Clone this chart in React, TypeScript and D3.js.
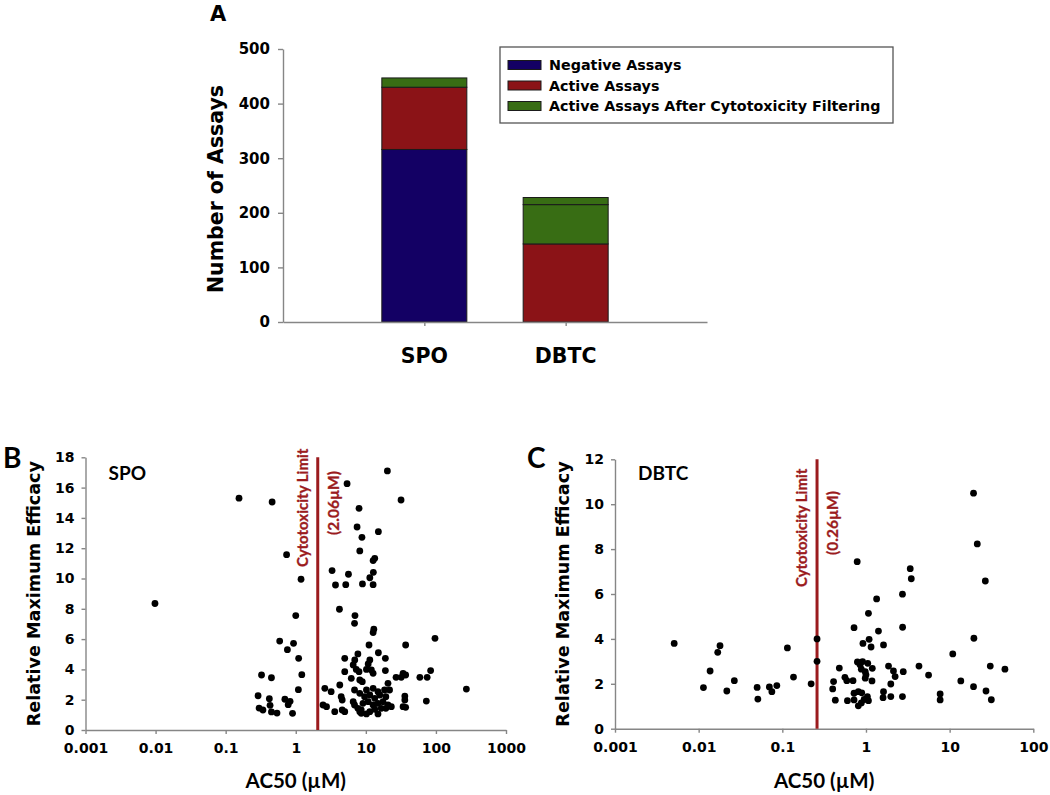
import React, { useEffect, useRef } from 'react'
import * as d3 from 'd3'

// panel A
const compounds = ['SPO', 'DBTC']
const negativeAssays = [316, 0]
const activeAssays = [114, 143]
const afterFiltering = [17, 72]
const afterFilteringTop = [0, 13]
const legendLabels = ['Negative Assays', 'Active Assays', 'Active Assays After Cytotoxicity Filtering']
const barTicks = [0, 100, 200, 300, 400, 500]

// panel B (SPO)
const spoAC50 = [
  0.0098, 0.155, 0.46, 0.74, 1.19, 1.0, 0.59, 0.93, 0.76, 1.1, 0.325, 0.45, 1.22, 1.09, 0.29, 0.42,
  0.7, 0.83, 0.43, 0.78, 0.3, 0.34, 0.45, 0.54, 0.9,
  20.3, 5.4, 31.8, 8.0, 7.5, 15.1, 8.8, 8.2, 13.4, 12.7, 3.3, 5.65, 12.8, 11.4, 3.69, 5.17, 8.95, 12.7,
  4.2, 7.0, 6.9, 13.0, 12.7, 97, 37, 11.1, 15.1, 19, 7.7, 6.95, 6.6, 7.3, 8.0, 5.0, 11.4, 10.8, 10.2,
  12.0, 12.7, 19, 5.0, 6.2, 8.2, 8.9, 27, 32, 34, 20.7, 4.25, 2.6, 3.2, 6.9, 8.2, 36, 36, 34, 4.45,
  4.6, 2.45, 2.75, 3.6, 4.6, 6.6, 6.9, 7.7, 8.6, 84, 75, 59, 37, 272, 73, 37,
  10.2, 12.7, 14.9, 18.5, 21.8, 9.6, 11.4, 13.4, 15.8, 19.3, 9.1, 10.8, 12.7, 14.9, 17.6, 20.7, 23.1,
  8.6, 11.4, 13.4, 16.6, 19.3, 10.2, 14.9, 5.0, 8.2,
]
const spoEfficacy = [
  8.35, 15.3, 15.05, 11.57, 9.95, 7.55, 5.87, 5.72, 5.3, 4.73, 3.63, 3.45, 3.65, 2.66, 2.26, 2.07,
  2.03, 1.89, 1.63, 1.67, 1.45, 1.32, 1.19, 1.12, 1.1,
  17.1, 16.26, 15.18, 14.63, 13.4, 13.09, 12.72, 11.82, 11.33, 11.18, 10.52, 10.28, 10.41, 10.05, 9.57, 9.59, 9.64, 9.59,
  7.97, 7.55, 7.04, 6.65, 6.43, 6.05, 5.61, 5.61, 5.1, 4.73, 5.02, 4.62, 4.29, 4.0, 3.85, 4.73, 4.62, 4.36, 4.0,
  3.96, 3.74, 3.92, 3.85, 3.41, 3.3, 3.19, 3.48, 3.48, 3.74, 3.08, 2.97, 2.75, 2.53, 2.64, 2.42, 2.24, 1.98, 1.54, 2.2,
  1.98, 1.65, 1.54, 1.21, 1.32, 1.87, 1.65, 1.43, 1.1, 3.92, 3.48, 3.48, 3.63, 2.7, 1.91, 1.5,
  2.64, 2.75, 2.53, 2.64, 2.64, 2.2, 2.31, 2.09, 2.31, 2.2, 1.76, 1.87, 1.65, 1.76, 1.87, 1.65, 1.54,
  1.32, 1.21, 1.37, 1.43, 1.43, 1.06, 1.06, 1.21, 1.21,
]
const spoLimit = 2.06
const spoYTicks = [0, 2, 4, 6, 8, 10, 12, 14, 16, 18]

// panel C (DBTC)
const dbtcAC50 = [
  0.0051, 0.0114, 0.0137, 0.0169, 0.018, 0.0217, 0.0267, 0.05, 0.051, 0.07, 0.075, 0.086, 0.115, 0.136,
  0.221, 0.26, 0.26, 0.785, 0.48, 0.41, 0.4, 0.43, 0.56, 0.59, 0.7, 0.72, 0.92, 1.09, 1.15, 1.07,
  0.79, 0.91, 1.05, 0.88, 0.98, 1.19, 0.98, 1.18, 0.72, 0.81, 0.89, 1.04, 0.6, 0.72, 0.81, 1.07,
  19.3, 21.4, 26.7, 3.38, 3.48, 2.73, 1.34, 2.74, 1.41, 1.62, 19.5, 10.9, 1.86, 2.13, 2.23, 2.79,
  4.3, 5.6, 1.98, 1.62, 1.6, 1.98, 2.73, 7.7, 7.7, 13.6, 19.3, 27.2, 31.5, 30.6, 45.8,
  0.85, 1.0, 0.95, 0.88,
]
const dbtcEfficacy = [
  3.8, 1.83, 2.57, 3.4, 3.7, 1.68, 2.14, 1.84, 1.32, 1.86, 1.65, 1.92, 3.6, 2.3,
  2.0, 4.0, 3.0, 7.44, 2.7, 2.1, 1.77, 1.27, 2.29, 2.14, 2.14, 4.5, 3.8, 3.98, 3.64, 5.14,
  2.97, 2.99, 2.91, 2.65, 2.54, 2.69, 2.25, 2.13, 1.58, 1.65, 1.6, 1.43, 1.25, 1.28, 1.02, 1.25,
  10.49, 8.23, 6.58, 7.13, 6.68, 5.99, 5.78, 4.52, 4.35, 3.73, 4.03, 3.33, 2.79, 2.57, 2.32, 2.54,
  2.79, 2.39, 1.99, 1.65, 1.38, 1.43, 1.43, 1.55, 1.28, 2.13, 1.87, 1.68, 1.29, 2.79, 2.65,
  2.85, 2.4, 1.3, 1.15,
]
const dbtcLimit = 0.26
const dbtcYTicks = [0, 2, 4, 6, 8, 10, 12]
const ac50TicksB = [0.001, 0.01, 0.1, 1, 10, 100, 1000]
const ac50TicksC = [0.001, 0.01, 0.1, 1, 10, 100]

const WIDE = "'DejaVu Sans', sans-serif"
const CAL = "Lato, 'Open Sans', sans-serif"
const AXIS = '#868686'
const DARKRED = '#9b1b1e'
const COLORS = ['#130064', '#8b1317', '#386d14', '#386d14']

const fmtTick = (d) => (d < 1 ? String(d) : d3.format('d')(d))

function styleAxis(g) {
  g.selectAll('path.domain').attr('stroke', AXIS).attr('stroke-width', 1.4)
  g.selectAll('.tick line').attr('stroke', AXIS).attr('stroke-width', 1.4)
}

function drawScatter(svg, o) {
  const x = d3.scaleLog().domain([o.ticksX[0], o.ticksX[o.ticksX.length - 1]]).range([o.left, o.right])
  const y = d3.scaleLinear().domain([0, o.ticksY[o.ticksY.length - 1]]).range([o.bottom, o.top])

  const xAxis = svg.append('g')
    .attr('transform', `translate(0,${o.bottom})`)
    .call(d3.axisBottom(x).tickValues(o.ticksX).tickFormat(fmtTick).tickSize(4).tickSizeOuter(0).tickPadding(9))
  xAxis.selectAll('text').attr('font-family', WIDE).attr('font-weight', 'bold').attr('font-size', 14).attr('fill', '#000')
  styleAxis(xAxis)

  const yAxis = svg.append('g')
    .attr('transform', `translate(${o.left},0)`)
    .call(d3.axisLeft(y).tickValues(o.ticksY).tickSize(4).tickSizeOuter(0).tickPadding(7))
  yAxis.selectAll('text').attr('font-family', WIDE).attr('font-weight', 'bold').attr('font-size', 14).attr('fill', '#000')
  styleAxis(yAxis)

  const lx = x(o.limit)
  svg.append('line')
    .attr('x1', lx).attr('x2', lx).attr('y1', o.top).attr('y2', o.bottom)
    .attr('stroke', DARKRED).attr('stroke-width', 3)

  svg.append('g').selectAll('circle')
    .data(o.xs.map((v, i) => [v, o.ys[i]]))
    .enter()
    .append('circle')
    .attr('cx', d => x(d[0]))
    .attr('cy', d => y(d[1]))
    .attr('r', 3.4)
    .attr('fill', '#000')

  svg.append('text')
    .attr('transform', `translate(${lx - 10},${o.limitTextY}) rotate(-90)`)
    .attr('font-family', CAL).attr('font-weight', 'bold').attr('font-size', 15)
    .attr('fill', DARKRED).attr('stroke', DARKRED).attr('stroke-width', 0.3)
    .text('Cytotoxicity Limit')
  svg.append('text')
    .attr('transform', `translate(${lx + 21},${o.valueTextY}) rotate(-90)`)
    .attr('text-anchor', 'middle')
    .attr('font-family', CAL).attr('font-weight', 'bold').attr('font-size', 15.5)
    .attr('fill', DARKRED).attr('stroke', DARKRED).attr('stroke-width', 0.3)
    .text(`(${o.limit}µM)`)

  svg.append('text')
    .attr('transform', `translate(${o.titleX},${(o.top + o.bottom) / 2}) rotate(-90)`)
    .attr('text-anchor', 'middle')
    .attr('font-family', WIDE).attr('font-weight', 'bold').attr('font-size', 17.6)
    .text('Relative Maximum Efficacy')

  svg.append('text')
    .attr('x', (o.left + o.right) / 2).attr('y', 788)
    .attr('text-anchor', 'middle')
    .attr('font-family', CAL).attr('font-weight', 'bold').attr('font-size', 20.5)
    .text('AC50 (µM)')

  svg.append('text')
    .attr('x', o.left + 23).attr('y', 480)
    .attr('font-family', CAL).attr('font-weight', 'bold').attr('font-size', 19)
    .text(o.name)

  svg.append('text')
    .attr('x', o.letterX).attr('y', 468)
    .attr('font-family', CAL).attr('font-weight', 'bold').attr('font-size', 28)
    .text(o.letter)
}

export default function App() {
  const svgRef = useRef(null)

  useEffect(() => {
    const svg = d3.select(svgRef.current)
    svg.selectAll('*').remove()

    // ---- panel A: stacked bars
    const left = 283, right = 707, top = 49, bottom = 322
    const x = d3.scalePoint().domain(compounds).range([left, right]).padding(1)
    const y = d3.scaleLinear().domain([0, 500]).range([bottom, top])
    const barW = 85

    const series = [negativeAssays, activeAssays, afterFiltering, afterFilteringTop]
    const rows = compounds.map((c, i) => {
      const r = { name: c }
      series.forEach((s, k) => { r['s' + k] = s[i] })
      return r
    })
    const stack = d3.stack().keys(series.map((_, k) => 's' + k))(rows)

    const bars = svg.append('g')
    stack.forEach((layer, k) => {
      bars.selectAll('.l' + k)
        .data(layer.filter(d => d[1] - d[0] > 0))
        .enter()
        .append('rect')
        .attr('x', d => x(d.data.name) - barW / 2)
        .attr('width', barW)
        .attr('y', d => y(d[1]))
        .attr('height', d => y(d[0]) - y(d[1]))
        .attr('fill', COLORS[k])
        .attr('stroke', '#1a1a1a')
        .attr('stroke-width', 1)
    })

    const ay = svg.append('g')
      .attr('transform', `translate(${left},0)`)
      .call(d3.axisLeft(y).tickValues(barTicks).tickSize(5).tickSizeOuter(0).tickPadding(8))
    ay.selectAll('text').attr('font-family', WIDE).attr('font-weight', 'bold').attr('font-size', 15).attr('fill', '#000')
    styleAxis(ay)

    const ax = svg.append('g')
      .attr('transform', `translate(0,${bottom})`)
      .call(d3.axisBottom(x).tickSize(4).tickSizeOuter(0).tickFormat(() => ''))
    styleAxis(ax)

    svg.append('g').selectAll('text')
      .data(compounds)
      .enter()
      .append('text')
      .attr('x', d => x(d))
      .attr('y', 363)
      .attr('text-anchor', 'middle')
      .attr('font-family', WIDE).attr('font-weight', 'bold').attr('font-size', 20.5)
      .text(d => d)

    svg.append('text')
      .attr('transform', `translate(223,189) rotate(-90)`)
      .attr('text-anchor', 'middle')
      .attr('font-family', WIDE).attr('font-weight', 'bold').attr('font-size', 20.5)
      .text('Number of Assays')

    svg.append('text')
      .attr('x', 210).attr('y', 21)
      .attr('font-family', WIDE).attr('font-weight', 'bold').attr('font-size', 21)
      .text('A')

    // legend
    const lg = svg.append('g').attr('transform', 'translate(500,47)')
    lg.append('rect').attr('width', 393).attr('height', 76)
      .attr('fill', '#fff').attr('stroke', '#555').attr('stroke-width', 1.3)
    legendLabels.forEach((lab, i) => {
      const cy = 18 + i * 20.5
      lg.append('rect').attr('x', 8).attr('y', cy - 4.5).attr('width', 33).attr('height', 9)
        .attr('fill', COLORS[i]).attr('stroke', '#1a1a1a').attr('stroke-width', 1)
      lg.append('text').attr('x', 49).attr('y', cy).attr('dy', '0.36em')
        .attr('font-family', WIDE).attr('font-weight', 'bold').attr('font-size', 14.3)
        .text(lab)
    })

    // ---- panel B & C
    drawScatter(svg, {
      left: 85.5, right: 506, top: 457.3, bottom: 730,
      ticksX: ac50TicksB, ticksY: spoYTicks, xs: spoAC50, ys: spoEfficacy,
      limit: spoLimit, limitTextY: 567, valueTextY: 503, titleX: 40,
      name: 'SPO', letter: 'B', letterX: 3,
    })
    drawScatter(svg, {
      left: 615, right: 1033.3, top: 459.3, bottom: 728.7,
      ticksX: ac50TicksC, ticksY: dbtcYTicks, xs: dbtcAC50, ys: dbtcEfficacy,
      limit: dbtcLimit, limitTextY: 587, valueTextY: 523, titleX: 569,
      name: 'DBTC', letter: 'C', letterX: 527,
    })
  }, [])

  return (
    <svg
      ref={svgRef}
      width={1050}
      height={795}
      style={{ position: 'absolute', left: 0, top: 0, background: '#fff' }}
    />
  )
}
